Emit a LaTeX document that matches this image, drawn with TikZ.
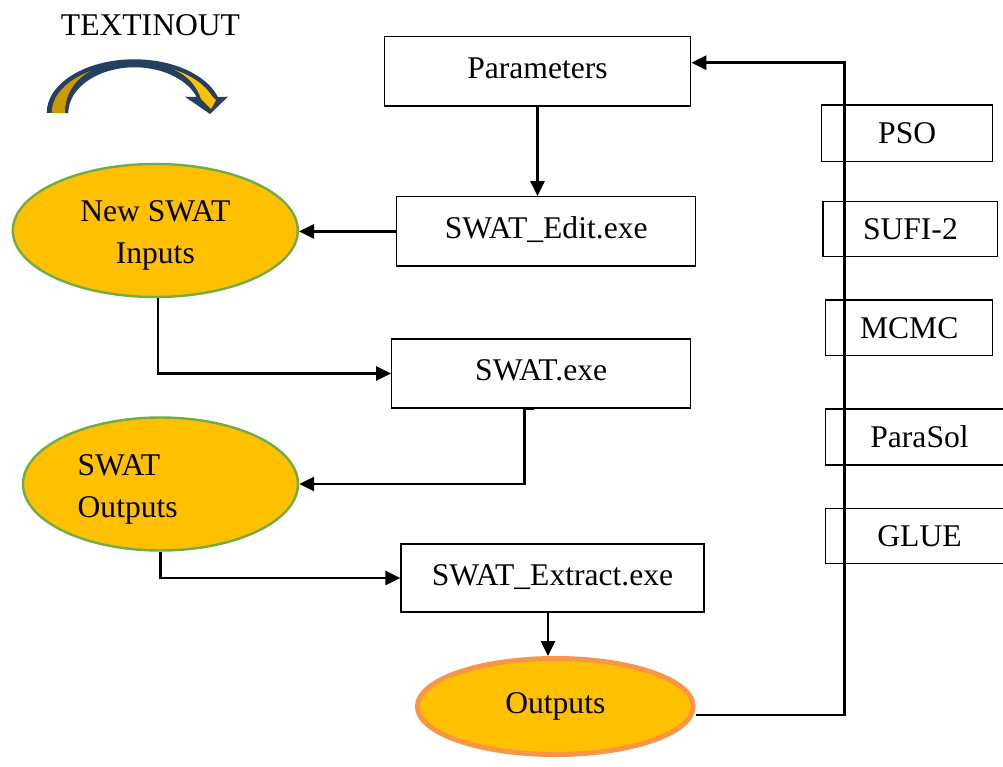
\documentclass[tikz,border=0pt]{standalone}
\usepackage{fontspec}
\setmainfont{Liberation Serif}
\usetikzlibrary{arrows.meta,shapes.geometric}
\definecolor{goldfill}{HTML}{FFC000}
\definecolor{darkgold}{HTML}{CC9900}
\definecolor{greenline}{HTML}{70AD47}
\definecolor{orangeline}{HTML}{F79646}
\definecolor{navy}{HTML}{243F60}
\begin{document}
\begin{tikzpicture}[x=1pt,y=-1pt,
  font=\fontsize{31.6}{42}\selectfont,
  box/.style={draw=black,line width=1.2pt,rectangle,inner sep=0pt,text height=21.6pt,text depth=6.9pt},
  algbox/.style={draw=black,line width=1.2pt,rectangle,inner sep=0pt},
  bubble/.style={ellipse,fill=goldfill,draw=greenline,line width=2.4pt,inner sep=0pt},
  conn/.style={line width=2.6pt,-{Triangle[length=15pt,width=14pt]}},
  plain/.style={inner sep=0pt}]
\useasboundingbox (0,0) rectangle (1003,767);
\clip (0,0) rectangle (1003,767);

% title and curved arrow
\node[plain] (title) at (150.5,24.8) {TEXTINOUT};
\fill[navy] (46.7,113) arc[start angle=180,end angle=342.7,x radius=87.6,y radius=53.7]
  -- (228,96.7) -- (210,114) -- (185,96.7) -- (196.7,97)
  arc[start angle=339.5,end angle=180,x radius=66.3,y radius=45.7] -- cycle;
\fill[darkgold] (51.7,113) arc[start angle=180,end angle=238,x radius=82.6,y radius=49.5]
  .. controls (74,80) and (65,95) .. (65,113) -- cycle;
\fill[goldfill] (173.3,69.4) arc[start angle=298.2,end angle=340,x radius=82.6,y radius=49.5]
  -- (216,100) -- (211,109) -- (201,99) .. controls (197,86) and (187,75) .. (173.3,69.4) -- cycle;

% process boxes
\node[box,minimum width=306.4pt,minimum height=69.3pt] (par) at (537.5,71.4) {Parameters};
\node[box,minimum width=299pt,minimum height=69.3pt] (edit) at (546.2,231.4) {SWAT\_Edit.exe};
\node[box,minimum width=299pt,minimum height=69pt] (swat) at (541.2,373.5) {SWAT.exe};
\node[box,minimum width=303pt,minimum height=68pt] (ext) at (552.5,578) {SWAT\_Extract.exe};

% algorithm boxes
\node[algbox,minimum width=171pt,minimum height=56.7pt] (pso) at (907.2,133.4) {PSO};
\node[algbox,minimum width=174.7pt,minimum height=55pt] (sufi) at (910.4,229.2) {SUFI-2};
\node[algbox,minimum width=167pt,minimum height=55.7pt] (mcmc) at (909.2,327.8) {MCMC};
\node[algbox,minimum width=187.6pt,minimum height=56pt] (parasol) at (919.5,437) {ParaSol};
\node[algbox,minimum width=187.6pt,minimum height=55pt] (glue) at (919.5,535.7) {GLUE};

% ellipses
\node[bubble,minimum width=285pt,minimum height=133pt] (inp) at (155.3,230.5) {};
\node[plain,align=center] (inptxt) at (155.3,235) {New SWAT\\Inputs};
\node[bubble,minimum width=275pt,minimum height=133pt] (outs) at (160.5,484) {};
\node[plain,align=left] (outstxt) at (127.7,489) {SWAT\\Outputs};
\node[ellipse,fill=goldfill,draw=orangeline,line width=5pt,inner sep=0pt,
      minimum width=275.7pt,minimum height=96pt] (out) at (555.3,706.5) {Outputs};

% connectors
\draw[conn] (par.south) -- (par.south |- edit.north);
\draw[conn] (edit.west) -- (edit.west -| inp.east);
\draw[conn] ([xshift=2.7pt]inp.south) |- (swat.west);
\draw[conn] ([xshift=-7.2pt]swat.south) -- ([xshift=-16.9pt]swat.south) |- (outs.east);
\draw[conn] (outs.south) |- (ext.west);
\draw[conn] ([xshift=-4.5pt]ext.south) -- ([xshift=-4.5pt]ext.south |- out.north);
\coordinate (ret) at (844.5,715);
\draw[conn] (out.east |- ret) -- (ret) |- ([yshift=8.7pt]par.east);
\end{tikzpicture}
\end{document}
